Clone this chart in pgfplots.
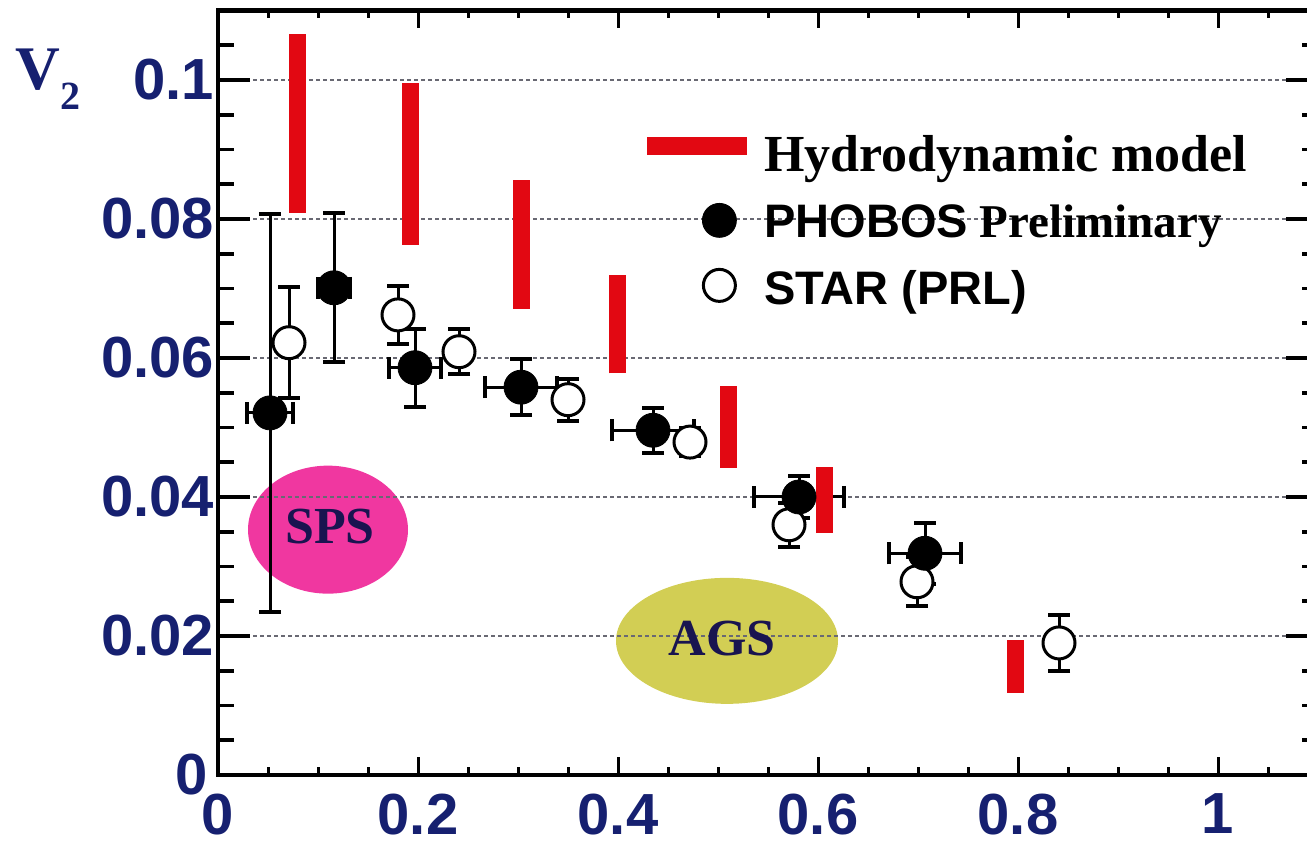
\documentclass[border=0pt]{standalone}
\usepackage{pgfplots}
\pgfplotsset{compat=1.18}
\usepackage{fontspec}
\setmainfont{Liberation Serif}
\newfontfamily\hv{Liberation Sans}
\definecolor{navy}{RGB}{22,32,112}
\definecolor{hydrored}{RGB}{226,8,18}
\definecolor{spspink}{RGB}{240,55,160}
\definecolor{agsolive}{RGB}{210,206,84}
\definecolor{gridgray}{RGB}{105,105,115}
\definecolor{lbltext}{RGB}{25,20,80}

\pgfplotstableread{
x y ey
0.071 0.0622 0.0080
0.180 0.0662 0.0042
0.241 0.0609 0.0032
0.350 0.0540 0.0030
0.472 0.0479 0.0020
0.571 0.0360 0.0032
0.699 0.0278 0.0035
0.841 0.0190 0.0040
}\star

\pgfplotstableread{
x y ex ey
0.052 0.0521 0.023 0.0286
0.116 0.0701 0.016 0.0107
0.197 0.0586 0.026 0.0056
0.303 0.0558 0.036 0.0040
0.435 0.0496 0.041 0.0032
0.581 0.0400 0.045 0.0030
0.707 0.0319 0.036 0.0044
}\phobos

\pgfplotstableread{
x y
0.079 0.0809
0.079 0.1066
nan nan
0.192 0.0763
0.192 0.0996
nan nan
0.303 0.0671
0.303 0.0856
nan nan
0.399 0.0578
0.399 0.0719
nan nan
0.510 0.0442
0.510 0.0560
nan nan
0.606 0.0348
0.606 0.0443
nan nan
0.797 0.0118
0.797 0.0194
}\hydro

\begin{document}
\begin{tikzpicture}
\begin{axis}[
  set layers,
  scale only axis,
  width=550pt, height=382.25pt,
  xmin=0, xmax=1.1, ymin=0, ymax=0.11,
  axis line style={line width=2.2pt, black},
  xtick={0,0.2,0.4,0.6,0.8,1},
  xticklabels={0,0.2,0.4,0.6,0.8,1},
  minor xtick={0.05,0.1,0.15,0.25,0.3,0.35,0.45,0.5,0.55,0.65,0.7,0.75,0.85,0.9,0.95,1.05},
  ytick={0,0.02,0.04,0.06,0.08,0.1},
  yticklabels={0\hspace*{3pt},0.02,0.04,0.06,0.08,0.1},
  minor ytick={0.005,0.01,0.015,0.025,0.03,0.035,0.045,0.05,0.055,0.065,0.07,0.075,0.085,0.09,0.095,0.105},
  major x tick style={/pgfplots/major tick length=9pt, line width=1.5pt, black},
  minor x tick style={/pgfplots/minor tick length=4pt, line width=1.5pt, black},
  major y tick style={/pgfplots/major tick length=16pt, line width=2pt, black},
  minor y tick style={/pgfplots/minor tick length=8pt, line width=1.8pt, black},
  tick label style={font=\hv\bfseries\fontsize{29}{31}\selectfont, text=navy},
  xticklabel style={yshift=-6pt},
  yticklabel style={xshift=1.5pt},
  ymajorgrids,
  major grid style={gridgray, line width=1.3pt, dash pattern=on 2pt off 1.5pt},
  unbounded coords=jump,
  reverse legend,
  legend cell align=left,
  legend style={at={(axis cs:0.420,0.0918)}, anchor=north west, draw=none, fill=none,
    inner sep=0pt, row sep=11pt,
    font=\bfseries\fontsize{23.5}{26}\selectfont,
    nodes={inner sep=0pt, text height=17pt, text depth=5pt},
    /tikz/every odd column/.append style={column sep=4pt}},
]
\begin{pgfonlayer}{axis background}
\fill[spspink] (axis cs:0.110,0.0353) ellipse [x radius=40pt, y radius=32pt];
\fill[agsolive] (axis cs:0.509,0.0193) ellipse [x radius=55.5pt, y radius=31.5pt];
\end{pgfonlayer}
\node[font=\bfseries\fontsize{26}{28}\selectfont, text=lbltext] at (axis cs:0.112,0.0357) {SPS};
\node[font=\bfseries\fontsize{26}{28}\selectfont, text=lbltext] at (axis cs:0.504,0.0197) {AGS};

% STAR (open circles)
\addplot[only marks, mark=*, mark size=8pt,
  mark options={fill=white, draw=black, line width=1.5pt},
  legend image code/.code={\draw[mark repeat=2, mark phase=2] plot coordinates {(22pt,3.5pt) (36pt,3.5pt) (50pt,3.5pt)};},
  error bars/.cd, y dir=both, y explicit,
  error bar style={line width=1.5pt, black},
  error mark options={rotate=90, line width=2pt, mark size=5.5pt, black}]
  table[x=x, y=y, y error=ey] {\star};
\addlegendentry{{\hv STAR (PRL)}}

% PHOBOS (filled circles)
\addplot[only marks, mark=*, mark size=8.5pt,
  mark options={fill=black, draw=black},
  legend image code/.code={\draw[mark repeat=2, mark phase=2] plot coordinates {(22pt,2.5pt) (36pt,2.5pt) (50pt,2.5pt)};},
  error bars/.cd, x dir=both, x explicit, y dir=both, y explicit,
  error bar style={line width=1.5pt, black},
  error mark options={rotate=90, line width=2pt, mark size=5.5pt, black}]
  table[x=x, y=y, x error=ex, y error=ey] {\phobos};
\addlegendentry{{\hv PHOBOS} Preliminary}

% Hydrodynamic model
\addplot[hydrored, line width=8.5pt, no marks,
  legend image code/.code={\draw[hydrored, line width=9pt] (0pt,6.5pt) -- (50pt,6.5pt);}]
  table[x=x, y=y] {\hydro};
\addlegendentry{\fontsize{26}{28}\selectfont Hydrodynamic model}
\end{axis}
\node[anchor=base west, inner sep=0pt, text=navy, font=\bfseries\fontsize{31}{33}\selectfont] at (-101.5pt,342.5pt) {V\raisebox{-10pt}{\fontsize{20}{22}\selectfont 2}};
\pgfresetboundingbox
\useasboundingbox (-109pt,-37pt) rectangle (544.5pt,387.5pt);
\end{tikzpicture}
\end{document}
